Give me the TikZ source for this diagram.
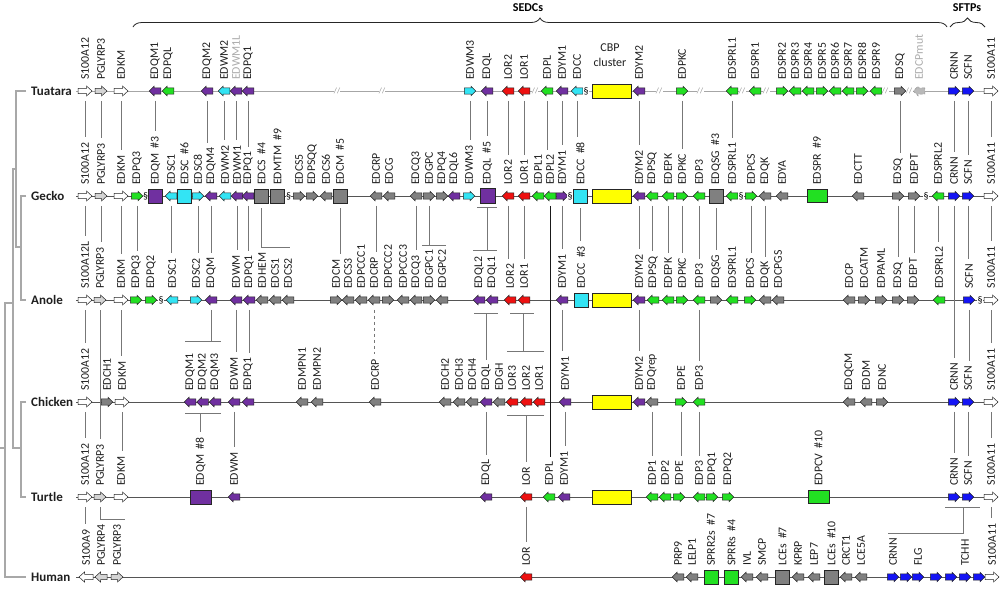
\documentclass[tikz,border=0pt]{standalone}
\usepackage{fontspec}
\setmainfont{Carlito}
\usetikzlibrary{decorations.pathreplacing,backgrounds,calc}
\definecolor{cPur}{HTML}{7030A0}
\definecolor{cGrn}{HTML}{22E022}
\definecolor{cCya}{HTML}{33E4F4}
\definecolor{cRed}{HTML}{EE1111}
\definecolor{cBlu}{HTML}{1414F5}
\definecolor{cDgr}{HTML}{808080}
\definecolor{cLgr}{HTML}{D4D4D4}
\definecolor{cYel}{HTML}{FFFF00}
\definecolor{cLine}{HTML}{777777}
\definecolor{cTree}{HTML}{A8A8A8}
\definecolor{cChr}{HTML}{555555}
\makeatletter
\def\garhead{0.5}\def\garshaft{0.33}
\pgfdeclareshape{garR}{%
  \inheritsavedanchors[from=rectangle]%
  \inheritanchorborder[from=rectangle]%
  \inheritanchor[from=rectangle]{center}%
  \inheritanchor[from=rectangle]{north}%
  \inheritanchor[from=rectangle]{south}%
  \inheritanchor[from=rectangle]{east}%
  \inheritanchor[from=rectangle]{west}%
  \backgroundpath{%
    \southwest \pgf@xa=\pgf@x \pgf@ya=\pgf@y
    \northeast \pgf@xb=\pgf@x \pgf@yb=\pgf@y
    \pgfutil@tempdima=\pgf@yb \advance\pgfutil@tempdima by-\pgf@ya
    \pgf@yc=.5\pgf@ya \advance\pgf@yc by.5\pgf@yb
    \pgf@xc=\pgf@xb \advance\pgf@xc by-\garhead\pgfutil@tempdima
    \pgfutil@tempdimb=\garshaft\pgfutil@tempdima
    \edef\gA{\the\pgf@xa}\edef\gB{\the\pgf@xb}\edef\gC{\the\pgf@xc}%
    \edef\gYa{\the\pgf@ya}\edef\gYb{\the\pgf@yb}\edef\gYc{\the\pgf@yc}%
    \pgf@y=\pgf@yc \advance\pgf@y by\pgfutil@tempdimb \edef\gYt{\the\pgf@y}%
    \pgf@y=\pgf@yc \advance\pgf@y by-\pgfutil@tempdimb \edef\gYs{\the\pgf@y}%
    \pgfpathmoveto{\pgfqpoint{\gA}{\gYt}}%
    \pgfpathlineto{\pgfqpoint{\gC}{\gYt}}%
    \pgfpathlineto{\pgfqpoint{\gC}{\gYb}}%
    \pgfpathlineto{\pgfqpoint{\gB}{\gYc}}%
    \pgfpathlineto{\pgfqpoint{\gC}{\gYa}}%
    \pgfpathlineto{\pgfqpoint{\gC}{\gYs}}%
    \pgfpathlineto{\pgfqpoint{\gA}{\gYs}}%
    \pgfpathclose
  }%
}
\pgfdeclareshape{garL}{%
  \inheritsavedanchors[from=rectangle]%
  \inheritanchorborder[from=rectangle]%
  \inheritanchor[from=rectangle]{center}%
  \inheritanchor[from=rectangle]{north}%
  \inheritanchor[from=rectangle]{south}%
  \inheritanchor[from=rectangle]{east}%
  \inheritanchor[from=rectangle]{west}%
  \backgroundpath{%
    \southwest \pgf@xa=\pgf@x \pgf@ya=\pgf@y
    \northeast \pgf@xb=\pgf@x \pgf@yb=\pgf@y
    \pgfutil@tempdima=\pgf@yb \advance\pgfutil@tempdima by-\pgf@ya
    \pgf@yc=.5\pgf@ya \advance\pgf@yc by.5\pgf@yb
    \pgf@xc=\pgf@xa \advance\pgf@xc by\garhead\pgfutil@tempdima
    \pgfutil@tempdimb=\garshaft\pgfutil@tempdima
    \edef\gA{\the\pgf@xa}\edef\gB{\the\pgf@xb}\edef\gC{\the\pgf@xc}%
    \edef\gYa{\the\pgf@ya}\edef\gYb{\the\pgf@yb}\edef\gYc{\the\pgf@yc}%
    \pgf@y=\pgf@yc \advance\pgf@y by\pgfutil@tempdimb \edef\gYt{\the\pgf@y}%
    \pgf@y=\pgf@yc \advance\pgf@y by-\pgfutil@tempdimb \edef\gYs{\the\pgf@y}%
    \pgfpathmoveto{\pgfqpoint{\gB}{\gYt}}%
    \pgfpathlineto{\pgfqpoint{\gC}{\gYt}}%
    \pgfpathlineto{\pgfqpoint{\gC}{\gYb}}%
    \pgfpathlineto{\pgfqpoint{\gA}{\gYc}}%
    \pgfpathlineto{\pgfqpoint{\gC}{\gYa}}%
    \pgfpathlineto{\pgfqpoint{\gC}{\gYs}}%
    \pgfpathlineto{\pgfqpoint{\gB}{\gYs}}%
    \pgfpathclose
  }%
}
\makeatother
\newcommand\G[5]{\node[#4] (#1) at (#2,#3) {};\node[lab] (#1l) at (#2,#3-10) {#5};}
\newcommand\Cn[2]{\draw[conn] (#1) -- (#1 |- #2l.east);}
\tikzset{garshaft/.code={\def\garshaft{#1}},garhead/.code={\def\garhead{#1}}}
\begin{document}
\begin{tikzpicture}[x=1pt,y=-1pt,
 gar/.style={shape=garR, draw=black!85, line width=0.5pt, minimum width=11.5pt, minimum height=9.5pt, inner sep=0pt, outer sep=0pt},
 gr/.style={gar}, gl/.style={gar, shape=garL},
 wr/.style={gar, minimum width=14pt, minimum height=10pt, garshaft=0.27, garhead=0.55, fill=white},
 wl/.style={wr, shape=garL},
 pr/.style={wr, minimum width=12pt, fill=cLgr},
 pl/.style={pr, shape=garL},
 sqb/.style={rectangle, draw=black!85, line width=0.5pt, minimum width=14pt, minimum height=14pt, inner sep=0pt, outer sep=0pt},
 cbp/.style={rectangle, draw=black!85, line width=0.5pt, fill=cYel, minimum width=39pt, minimum height=14pt, inner sep=0pt},
 pu/.style={fill=cPur}, gn/.style={fill=cGrn}, cy/.style={fill=cCya}, rd/.style={fill=cRed}, bl/.style={fill=cBlu}, dg/.style={fill=cDgr},
 lab/.style={rotate=90, anchor=west, inner sep=1pt, font=\fontsize{11.8}{12}\selectfont, text=black!88},
 sp/.style={anchor=west, inner sep=0pt, font=\bfseries\fontsize{13}{13}\selectfont, text=black!88},
 chr/.style={draw=cChr, line width=1pt},
 conn/.style={draw=cLine, line width=1pt, shorten <=5pt, shorten >=4pt},
 conn0/.style={draw=cLine, line width=1pt, shorten <=5pt},
 conn1/.style={draw=cLine, line width=1pt},
 phylo/.style={draw=cTree, line width=1.8pt},
 brk/.style={inner sep=0.4pt, fill=white, text=gray!90, font=\fontsize{8}{8}\selectfont},
 sec/.style={inner sep=0.4pt, fill=white, font=\fontsize{10}{10}\selectfont},
 brc/.style={decorate, decoration={brace, amplitude=9pt}, line width=0.8pt, draw=black!85},
]
\useasboundingbox (0,0) rectangle (1000,590);
% species
\node[sp] (spT) at (31,91) {Tuatara};
\node[sp] (spG) at (31,196) {Gecko};
\node[sp] (spA) at (31,300) {Anole};
\node[sp] (spC) at (31,402) {Chicken};
\node[sp] (spU) at (31,497) {Turtle};
\node[sp] (spH) at (31,577) {Human};
% braces
\draw[brc] (133,27) -- (947,27);
\node[font=\bfseries\fontsize{12}{12}\selectfont] (sedc) at (528,8) {SEDCs};
\draw[brc] (950,27) -- (985,27);
\node[font=\bfseries\fontsize{12}{12}\selectfont] (sftp) at (967,8) {SFTPs};
% ---------------- Tuatara
\G{tS100A12}{85}{91}{wr}{S100A12}
\G{tPGLYRP3}{101}{91}{pr}{PGLYRP3}
\G{tEDKM}{121}{91}{wr}{EDKM}
\G{tEDQM1}{155}{91}{gl,pu}{EDQM1}
\G{tEDPQL}{168}{91}{gl,gn}{EDPQL}
\G{tEDQM2}{207}{91}{gl,pu}{EDQM2}
\G{tEDWM2}{224}{91}{gl,cy}{EDWM2}
\G{tEDWM1L}{236}{91}{gl,pu}{\textcolor{gray!65}{EDWM1L}}
\G{tEDPQ1}{248}{91}{gl,pu}{EDPQ1}
\G{tEDWM3}{470}{91}{gr,cy}{EDWM3}
\G{tEDQL}{487}{91}{gl,pu}{EDQL}
\G{tLOR2}{508}{91}{gl,rd}{LOR2}
\G{tLOR1}{524}{91}{gl,rd}{LOR1}
\G{tEDPL}{547}{91}{gl,gn}{EDPL}
\G{tEDYM1}{562}{91}{gl,pu}{EDYM1}
\G{tEDCC}{577}{91}{gl,cy}{EDCC}
\node[sec] (ts1) at (586,91) {§};
\node[cbp] (tCBP) at (612,91) {};
\node[align=center, inner sep=0pt, font=\fontsize{12}{15}\selectfont, text=black!88] (tCBPl) at (610,55) {CBP\\cluster};
\G{tEDYM2}{639}{91}{gl,pu}{EDYM2}
\G{tEDPKC}{682}{91}{gr,gn}{EDPKC}
\G{tEDSPRL1}{732}{91}{gl,gn}{EDSPRL1}
\G{tEDSPR1}{755}{91}{gl,gn}{EDSPR1}
\G{tEDSPR2}{782}{91}{gr,gn}{EDSPR2}
\G{tEDSPR3}{795}{91}{gl,gn}{EDSPR3}
\G{tEDSPR4}{808}{91}{gl,gn}{EDSPR4}
\G{tEDSPR5}{822}{91}{gr,gn}{EDSPR5}
\G{tEDSPR6}{835}{91}{gl,gn}{EDSPR6}
\G{tEDSPR7}{848}{91}{gl,gn}{EDSPR7}
\G{tEDSPR8}{862}{91}{gr,gn}{EDSPR8}
\G{tEDSPR9}{876}{91}{gl,gn}{EDSPR9}
\G{tEDSQ}{900}{91}{gr,dg}{EDSQ}
\G{tEDCPmut}{919}{91}{gl,fill=gray!55,draw=gray!85,densely dashed}{\textcolor{gray!65}{EDCPmut}}
\G{tCRNN}{954}{91}{gr,bl}{CRNN}
\G{tSCFN}{968}{91}{gr,bl}{SCFN}
\G{tS100A11}{991}{91}{wr}{S100A11}
\node[brk] (tb1) at (337,91) {//};
\node[brk] (tb2) at (382,91) {//};
\node[brk] (tb3) at (535,91) {//};
\node[brk] (tb4) at (659,91) {//};
\node[brk] (tb5) at (700,91) {//};
\node[brk] (tb6) at (742,91) {//};
\node[brk] (tb7) at (766,91) {//};
\node[brk] (tb8) at (885,91) {//};
\node[brk] (tb9) at (909,91) {//};
% ---------------- Gecko
\G{gS100A12}{85}{196}{wr}{S100A12}
\G{gPGLYRP3}{101}{196}{pr}{PGLYRP3}
\G{gEDKM}{121}{196}{wr}{EDKM}
\G{gEDPQ3}{137}{196}{gr,gn}{EDPQ3}
\node[sec] (gs1) at (145.5,196) {§};
\G{gEDQM3}{155.5}{196}{sqb,pu}{EDQM~~\#3}
\G{gEDSC1}{171}{196}{gl,cy}{EDSC1}
\G{gEDSC6}{184.5}{196}{sqb,cy}{EDSC~~\#6}
\G{gEDSC8}{198}{196}{gr,cy}{EDSC8}
\G{gEDQM4}{211}{196}{gl,pu}{EDQM4}
\G{gEDWM2}{225}{196}{gl,cy}{EDWM2}
\G{gEDWM1}{237}{196}{gl,pu}{EDWM1}
\G{gEDPQ1}{248}{196}{gl,pu}{EDPQ1}
\G{gEDCS4}{261.5}{196}{sqb,dg}{EDCS~~\#4}
\G{gEDMTM9}{277.5}{196}{sqb,dg}{EDMTM~~\#9}
\node[sec] (gs2) at (288.5,196) {§};
\G{gEDCS5}{299}{196}{gr,dg}{EDCS5}
\G{gEDPSQQ}{312}{196}{gr,dg}{EDPSQQ}
\G{gEDCS6}{326}{196}{gl,dg}{EDCS6}
\G{gEDCM5}{340}{196}{sqb,dg}{EDCM~~\#5}
\G{gEDCRP}{376}{196}{gl,dg}{EDCRP}
\G{gEDCG}{389}{196}{gl,dg}{EDCG}
\G{gEDCQ3}{416}{196}{gl,dg}{EDCQ3}
\G{gEDGPC}{429}{196}{gr,dg}{EDGPC}
\G{gEDPQ4}{442}{196}{gr,dg}{EDPQ4}
\G{gEDQL6}{454}{196}{gl,pu}{EDQL6}
\G{gEDWM3}{469}{196}{gr,cy}{EDWM3}
\G{gEDQL5}{487.5}{196}{sqb,pu,minimum width=15pt,minimum height=15pt}{EDQL~~\#5}
\G{gLOR2}{508}{196}{gl,rd}{LOR2}
\G{gLOR1}{524}{196}{gl,rd}{LOR1}
\G{gEDPL1}{538}{196}{gl,gn}{EDPL1}
\G{gEDPL2}{550}{196}{gl,gn}{EDPL2}
\G{gEDYM1}{562}{196}{gr,pu}{EDYM1}
\node[sec] (gs3) at (570,196) {§};
\G{gEDCC8}{580.5}{196}{sqb,cy}{EDCC~~\#8}
\node[cbp] (gCBP) at (612,196) {};
\G{gEDYM2}{639}{196}{gl,pu}{EDYM2}
\G{gEDPSQ}{652}{196}{gl,gn}{EDPSQ}
\G{gEDEPK}{668}{196}{gl,gn}{EDEPK}
\G{gEDPKC}{682}{196}{gr,gn}{EDPKC}
\G{gEDP3}{699}{196}{gl,gn}{EDP3}
\G{gEDQSG3}{716}{196}{sqb,dg}{EDQSG~~\#3}
\G{gEDSPRL1}{732}{196}{gl,gn}{EDSPRL1}
\node[sec] (gs4) at (741,196) {§};
\G{gEDPCS}{751}{196}{gr,gn}{EDPCS}
\G{gEDQK}{765}{196}{gl,dg}{EDQK}
\G{gEDYA}{782}{196}{gl,dg}{EDYA}
\G{gEDSPR9}{817}{196}{sqb,gn,minimum width=20pt,minimum height=13pt}{EDSPR~~\#9}
\G{gEDCTT}{858}{196}{gl,dg}{EDCTT}
\G{gEDSQ}{898}{196}{gr,dg}{EDSQ}
\G{gEDEPT}{914}{196}{gr,dg}{EDEPT}
\node[sec] (gs5) at (926,196) {§};
\G{gEDSPRL2}{938}{196}{gl,gn}{EDSPRL2}
\G{gCRNN}{954}{196}{gr,bl}{CRNN}
\G{gSCFN}{968}{196}{gr,bl}{SCFN}
\G{gS100A11}{991}{196}{wr}{S100A11}
% ---------------- Anole
\G{aS100A12L}{85}{300}{wr}{S100A12L}
\G{aPGLYRP3}{100}{300}{pr}{PGLYRP3}
\G{aEDKM}{121}{300}{wr}{EDKM}
\G{aEDPQ3}{136}{300}{gr,gn}{EDPQ3}
\G{aEDPQ2}{151}{300}{gr,gn}{EDPQ2}
\node[sec] (as1) at (161,300) {§};
\G{aEDSC1}{172}{300}{gl,cy}{EDSC1}
\G{aEDSC2}{196}{300}{gr,cy}{EDSC2}
\G{aEDQM}{211}{300}{gl,pu}{EDQM}
\G{aEDWM}{236}{300}{gl,pu}{EDWM}
\G{aEDPQ1}{249}{300}{gl,pu}{EDPQ1}
\G{aEDHEM}{262}{300}{gl,dg}{EDHEM}
\G{aEDCS1}{275}{300}{gl,dg}{EDCS1}
\G{aEDCS2}{288}{300}{gl,dg}{EDCS2}
\G{aEDCM}{336}{300}{gr,dg}{EDCM}
\G{aEDCS3}{348}{300}{gl,dg}{EDCS3}
\G{aEDPCCC1}{361}{300}{gl,dg}{EDPCCC1}
\G{aEDCRP}{374}{300}{gl,dg}{EDCRP}
\G{aEDPCCC2}{388}{300}{gr,dg}{EDPCCC2}
\G{aEDPCCC3}{403}{300}{gl,dg}{EDPCCC3}
\G{aEDCQ3}{416}{300}{gl,dg}{EDCQ3}
\G{aEDGPC1}{429}{300}{gr,dg}{EDGPC1}
\G{aEDGPC2}{442}{300}{gl,dg}{EDGPC2}
\G{aEDQL2}{479}{300}{gl,pu}{EDQL2}
\G{aEDQL1}{492}{300}{gl,pu}{EDQL1}
\G{aLOR2}{510}{300}{gl,rd}{LOR2}
\G{aLOR1}{524}{300}{gl,rd}{LOR1}
\G{aEDYM1}{562}{300}{gl,pu}{EDYM1}
\G{aEDCC3}{581}{300}{sqb,cy}{EDCC~~\#3}
\node[cbp] (aCBP) at (612,300) {};
\G{aEDYM2}{639}{300}{gl,pu}{EDYM2}
\G{aEDPSQ}{653}{300}{gl,gn}{EDPSQ}
\G{aEDEPK}{668}{300}{gl,gn}{EDEPK}
\G{aEDPKC}{682}{300}{gr,gn}{EDPKC}
\G{aEDP3}{699}{300}{gl,gn}{EDP3}
\G{aEDQSG}{716}{300}{gr,dg}{EDQSG}
\G{aEDSPRL1}{732}{300}{gl,gn}{EDSPRL1}
\G{aEDPCS}{750}{300}{gr,gn}{EDPCS}
\G{aEDQK}{765}{300}{gl,dg}{EDQK}
\G{aEDCPGS}{778}{300}{gl,dg}{EDCPGS}
\G{aEDCP}{849}{300}{gl,dg}{EDCP}
\G{aEDCATM}{864}{300}{gr,dg}{EDCATM}
\G{aEDPAML}{881}{300}{gr,dg}{EDPAML}
\G{aEDSQ}{898}{300}{gr,dg}{EDSQ}
\G{aEDEPT}{913}{300}{gr,dg}{EDEPT}
\G{aEDSPRL2}{939}{300}{gl,gn}{EDSPRL2}
\G{aSCFN}{969}{300}{gr,bl}{SCFN}
\node[sec] (as2) at (980,300) {§};
\G{aS100A11}{991}{300}{wr}{S100A11}
% ---------------- Chicken
\G{cS100A12}{85}{402}{wr}{S100A12}
\G{cEDCH1}{107}{402}{gr,dg}{EDCH1}
\G{cEDKM}{122}{402}{wr}{EDKM}
\G{cEDQM1}{190}{402}{gl,pu}{EDQM1}
\G{cEDQM2}{202.5}{402}{gl,pu}{EDQM2}
\G{cEDQM3}{215}{402}{gl,pu}{EDQM3}
\G{cEDWM}{234}{402}{gl,pu}{EDWM}
\G{cEDPQ1}{248}{402}{gl,pu}{EDPQ1}
\G{cEDMPN1}{302}{402}{gl,dg}{EDMPN1}
\G{cEDMPN2}{317}{402}{gl,dg}{EDMPN2}
\G{cEDCRP}{375}{402}{gl,dg}{EDCRP}
\G{cEDCH2}{445}{402}{gl,dg}{EDCH2}
\G{cEDCH3}{459}{402}{gl,dg}{EDCH3}
\G{cEDCH4}{472}{402}{gl,dg}{EDCH4}
\G{cEDQL}{486}{402}{gl,pu}{EDQL}
\G{cEDGH}{499}{402}{gl,dg}{EDGH}
\G{cLOR3}{512}{402}{gl,rd}{LOR3}
\G{cLOR2}{526}{402}{gl,rd}{LOR2}
\G{cLOR1}{539}{402}{gl,rd}{LOR1}
\G{cEDYM1}{565}{402}{gl,pu}{EDYM1}
\node[cbp] (cCBP) at (612,402) {};
\G{cEDYM2}{639}{402}{gl,pu}{EDYM2}
\G{cEDQrep}{652}{402}{gl,dg}{EDQrep}
\G{cEDPE}{681}{402}{gr,gn}{EDPE}
\G{cEDP3}{699}{402}{gl,gn}{EDP3}
\G{cEDQCM}{849}{402}{gl,dg}{EDQCM}
\G{cEDDM}{866}{402}{gl,dg}{EDDM}
\G{cEDNC}{882}{402}{gr,dg}{EDNC}
\G{cCRNN}{954}{402}{gr,bl}{CRNN}
\G{cSCFN}{968}{402}{gr,bl}{SCFN}
\G{cS100A11}{991}{402}{wr}{S100A11}
% ---------------- Turtle
\G{uS100A12}{85}{497}{wr}{S100A12}
\G{uPGLYRP3}{100}{497}{pr}{PGLYRP3}
\G{uEDKM}{121}{497}{wr}{EDKM}
\G{uEDQM8}{200.5}{497}{sqb,pu,minimum width=21pt}{EDQM~~\#8}
\G{uEDWM}{234}{497}{gl,pu}{EDWM}
\G{uEDQL}{486}{497}{gl,pu}{EDQL}
\G{uLOR}{526}{497}{gl,rd}{LOR}
\G{uEDPL}{549}{497}{gl,gn}{EDPL}
\G{uEDYM1}{564}{497}{gl,pu}{EDYM1}
\node[cbp] (uCBP) at (612,497) {};
\G{uEDP1}{652}{497}{gl,gn}{EDP1}
\G{uEDP2}{665}{497}{gl,gn}{EDP2}
\G{uEDPE}{679}{497}{gr,gn}{EDPE}
\G{uEDP3}{699}{497}{gl,gn}{EDP3}
\G{uEDPQ1}{712}{497}{gr,gn}{EDPQ1}
\G{uEDPQ2}{728}{497}{gr,gn}{EDPQ2}
\G{uEDPCV10}{818.5}{497}{sqb,gn,minimum width=21pt,minimum height=13pt}{EDPCV~~\#10}
\G{uCRNN}{954}{497}{gr,bl}{CRNN}
\G{uSCFN}{968}{497}{gr,bl}{SCFN}
\G{uS100A11}{991}{497}{wr}{S100A11}
% ---------------- Human
\G{hS100A9}{86}{577}{wl}{S100A9}
\G{hPGLYRP4}{101}{577}{pl}{PGLYRP4}
\G{hPGLYRP3}{117}{577}{pr}{PGLYRP3}
\G{hLOR}{526}{577}{gl,rd}{LOR}
\G{hPRP9}{678}{577}{gl,dg}{PRP9}
\G{hLELP1}{692}{577}{gl,dg}{LELP1}
\G{hSPRR2s}{711}{577}{sqb,gn}{SPRR2s~~\#7}
\G{hSPRRs}{731.5}{577}{sqb,gn}{SPRRs~~\#4}
\G{hIVL}{747}{577}{gl,dg}{IVL}
\G{hSMCP}{762}{577}{gl,dg}{SMCP}
\G{hLCEsA}{782.5}{577}{sqb,dg}{LCEs~~\#7}
\G{hKPRP}{798}{577}{gl,dg}{KPRP}
\G{hLEP7}{814}{577}{gl,dg}{LEP7}
\G{hLCEsB}{831.5}{577}{sqb,dg}{LCEs~~\#10}
\G{hCRCT1}{846}{577}{gl,dg}{CRCT1}
\G{hLCE5A}{861}{577}{gl,dg}{LCE5A}
\G{hCRNN}{893}{577}{gr,bl}{CRNN}
\node[gr,bl] (hB2) at (906,577) {};
\G{hFLG}{918}{577}{gr,bl}{FLG}
\node[gr,bl] (hB4) at (936,577) {};
\node[gr,bl] (hB5) at (951,577) {};
\G{hTCHH}{965}{577}{gr,bl}{TCHH}
\node[gr,bl] (hB7) at (979,577) {};
\G{hS100A11}{992}{577}{wr}{S100A11}
% ---------------- background: chromosomes and tree
\begin{pgfonlayer}{background}
\fill[white] (0,0) rectangle (1000,590);
\draw[chr, draw=gray!70] (76,91) -- (998,91);
\draw[chr] (76,196) -- (998,196);
\draw[chr] (76,300) -- (998,300);
\draw[chr] (76,402) -- (998,402);
\draw[chr] (76,497) -- (998,497);
\draw[chr] (76,577) -- (999,577);
\draw[phylo] (26,91) -- (16,91) -- (16,247) -- (21,247);
\draw[phylo] (26,196) -- (21,196) -- (21,300) -- (26,300);
\draw[phylo] (16,169) -- (13,169) -- (13,448) -- (21,448);
\draw[phylo] (26,402) -- (21,402) -- (21,497) -- (26,497);
\draw[phylo] (13,303) -- (5,303) -- (5,577) -- (26,577);
\draw[phylo] (0,448) -- (5,448);
\end{pgfonlayer}
% ---------------- connectors Tuatara -> Gecko
\Cn{tS100A12}{gS100A12} \Cn{tPGLYRP3}{gPGLYRP3} \Cn{tEDKM}{gEDKM}
\Cn{tEDQM1}{gEDQM3} \Cn{tEDQM2}{gEDQM4} \Cn{tEDWM2}{gEDWM2}
\Cn{tEDWM1L}{gEDWM1} \Cn{tEDPQ1}{gEDPQ1} \Cn{tEDWM3}{gEDWM3}
\Cn{tEDQL}{gEDQL5} \Cn{tLOR2}{gLOR2} \Cn{tLOR1}{gLOR1}
\Cn{tEDPL}{gEDPL2} \Cn{tEDYM1}{gEDYM1} \Cn{tEDCC}{gEDCC8}
\Cn{tEDYM2}{gEDYM2} \Cn{tEDPKC}{gEDPKC} \Cn{tEDSPRL1}{gEDSPRL1}
\Cn{tEDSQ}{gEDSQ} \Cn{tCRNN}{gCRNN} \Cn{tSCFN}{gSCFN} \Cn{tS100A11}{gS100A11}
% Gecko -> Anole
\Cn{gS100A12}{aS100A12L} \Cn{gPGLYRP3}{aPGLYRP3} \Cn{gEDKM}{aEDKM}
\Cn{gEDPQ3}{aEDPQ3} \Cn{gEDSC1}{aEDSC1} \Cn{gEDSC8}{aEDSC2}
\Cn{gEDQM4}{aEDQM} \Cn{gEDWM1}{aEDWM} \Cn{gEDPQ1}{aEDPQ1}
\Cn{gEDCM5}{aEDCM} \Cn{gEDCRP}{aEDCRP} \Cn{gEDCQ3}{aEDCQ3}
\Cn{gLOR2}{aLOR2} \Cn{gLOR1}{aLOR1} \Cn{gEDYM1}{aEDYM1}
\Cn{gEDCC8}{aEDCC3} \Cn{gEDYM2}{aEDYM2} \Cn{gEDPSQ}{aEDPSQ}
\Cn{gEDEPK}{aEDEPK} \Cn{gEDPKC}{aEDPKC} \Cn{gEDP3}{aEDP3}
\Cn{gEDQSG3}{aEDQSG} \Cn{gEDPCS}{aEDPCS} \Cn{gEDQK}{aEDQK}
\Cn{gEDSQ}{aEDSQ} \Cn{gEDEPT}{aEDEPT} \Cn{gEDSPRL2}{aEDSPRL2}
\Cn{gSCFN}{aSCFN} \Cn{gS100A11}{aS100A11}
\Cn{gCRNN}{cCRNN}
\draw[conn, draw=black!90, line width=0.9pt] (gEDPL2) -- (gEDPL2 |- uEDPLl.east);
\coordinate (ba1) at (261.5,247); \coordinate (ba2) at (290,247);
\draw[conn0] (gEDCS4) -- (ba1) -- (ba2);
\coordinate (bb1) at (422,245); \coordinate (bb2) at (446,245);
\draw[conn0] (gEDGPC) -- (gEDGPC |- bb1);
\draw[conn1] (bb1) -- (bb2);
\coordinate (bc1) at (477,207); \coordinate (bc2) at (497,207);
\coordinate (bc3) at (473,250); \coordinate (bc4) at (497,250);
\draw[conn1] (bc1) -- (bc2);
\draw[conn1] (gEDQL5 |- bc1) -- (gEDQL5 |- bc3);
\draw[conn1] (bc3) -- (bc4);
% Anole -> Chicken
\Cn{aS100A12L}{cS100A12} \Cn{aEDKM}{cEDKM} \Cn{aEDWM}{cEDWM}
\Cn{aEDPQ1}{cEDPQ1} \Cn{aEDYM1}{cEDYM1} \Cn{aEDYM2}{cEDYM2}
\Cn{aEDP3}{cEDP3} \Cn{aSCFN}{cSCFN} \Cn{aS100A11}{cS100A11}
\Cn{aPGLYRP3}{uPGLYRP3}
\draw[conn, dashed] (aEDCRP) -- (aEDCRP |- cEDCRPl.east);
\coordinate (bh1) at (185,341); \coordinate (bh2) at (221,341);
\draw[conn0] (aEDQM) -- (aEDQM |- bh1);
\draw[conn1] (bh1) -- (bh2);
\coordinate (bd1) at (474,313); \coordinate (bd2) at (498,313);
\draw[conn1] (bd1) -- (bd2);
\draw[conn1, shorten >=4pt] (cEDQL |- bd1) -- (cEDQLl.east);
\coordinate (be1) at (510,313); \coordinate (be2) at (534,313);
\coordinate (be3) at (507,351); \coordinate (be4) at (544,351);
\coordinate (be5) at (523,313); \coordinate (be6) at (523,351);
\draw[conn1] (be1) -- (be2);
\draw[conn1] (be5) -- (be6);
\draw[conn1] (be3) -- (be4);
% Chicken -> Turtle
\Cn{cS100A12}{uS100A12} \Cn{cEDKM}{uEDKM} \Cn{cEDWM}{uEDWM}
\Cn{cEDQL}{uEDQL} \Cn{cEDYM1}{uEDYM1} \Cn{cEDQrep}{uEDP1}
\Cn{cEDPE}{uEDPE} \Cn{cEDP3}{uEDP3} \Cn{cCRNN}{uCRNN}
\Cn{cSCFN}{uSCFN} \Cn{cS100A11}{uS100A11}
\coordinate (bi1) at (185,413); \coordinate (bi2) at (221,413);
\draw[conn1] (bi1) -- (bi2);
\draw[conn1, shorten >=4pt] (uEDQM8 |- bi1) -- (uEDQM8l.east);
\coordinate (bf1) at (507,415); \coordinate (bf2) at (544,415);
\draw[conn1] (bf1) -- (bf2);
\draw[conn1, shorten >=4pt] (uLOR |- bf1) -- (uLORl.east);
% Turtle -> Human
\Cn{uS100A12}{hS100A9} \Cn{uLOR}{hLOR} \Cn{uS100A11}{hS100A11}
\coordinate (bj) at ($(hPGLYRP4l.east)+(0,-3)$);
\draw[conn0] (uPGLYRP3) -- (uPGLYRP3 |- bj) -- ($(hPGLYRP3l.east |- bj)+(8,0)$);
\coordinate (bk1) at (945,507); \coordinate (bk2) at (980,507);
\coordinate (bk3) at (963,507); \coordinate (bk4) at (963,533);
\coordinate (bk5) at (888,533);
\draw[conn1] (bk1) -- (bk2);
\draw[conn1] (bk3) -- (bk4) -- (bk5);
\end{tikzpicture}
\end{document}
